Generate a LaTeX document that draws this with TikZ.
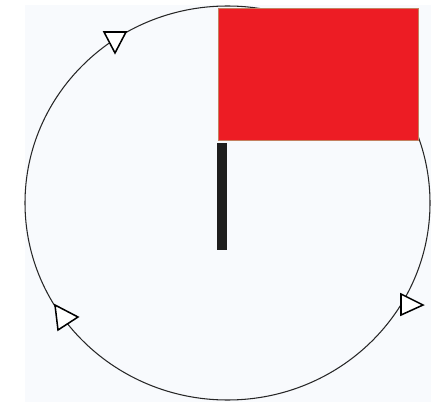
\documentclass[tikz,border=0pt]{standalone}
\usepackage{xcolor}
\usetikzlibrary{calc}
\definecolor{bgpale}{RGB}{248, 250, 253}
\definecolor{flagred}{RGB}{237, 28, 36}
\definecolor{flagedge}{RGB}{196, 128, 96}
\definecolor{poleblack}{RGB}{30, 30, 30}

\begin{document}
\begin{tikzpicture}[
  x=0.03cm, y=-0.03cm,
  track/.style={draw=black!85, line width=0.9pt},
  flag/.style={draw=flagedge, fill=flagred, line width=0.6pt},
  pole/.style={fill=poleblack},
  marker/.style={draw=black, fill=white, line width=1.3pt, line join=miter}
]
  \useasboundingbox (0,0) rectangle (431,402);

  % Hintergrund
  \fill[bgpale] (25,5) rectangle (431,402);

  % Kreisbahn
  \coordinate (c) at (227.5,203);
  \draw[track] (c) ellipse [x radius=202.5, y radius=197];

  % Fahne und Mast
  \draw[flag] (218,8) rectangle (418,140);
  \fill[pole] (217,143) rectangle (227,250);

  % Richtungsmarken
  \draw[marker] (104,32) -- (126,32) -- (115,53) -- cycle;
  \draw[marker] (55,305) -- (58,330) -- (78,317) -- cycle;
  \draw[marker] (401,294) -- (401,315) -- (423,305) -- cycle;
\end{tikzpicture}
\end{document}
